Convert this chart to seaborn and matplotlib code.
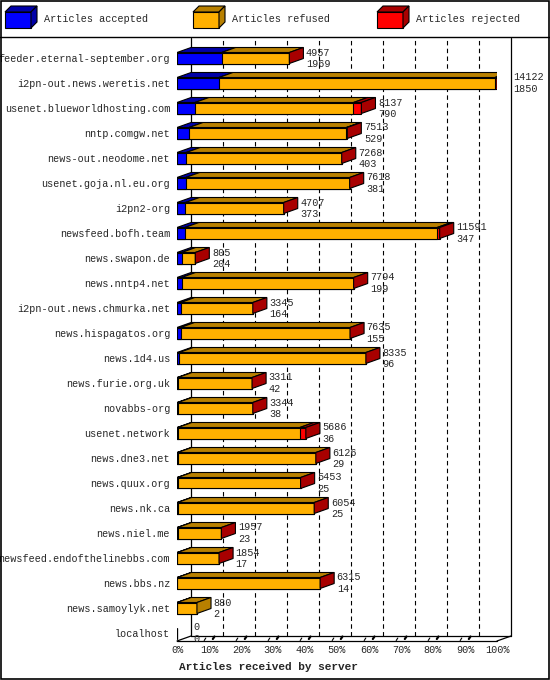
import numpy as np
import pandas as pd
import matplotlib
matplotlib.use("Agg")
import matplotlib.pyplot as plt
from matplotlib.patches import Polygon, Rectangle
import seaborn as sns

servers = ["feeder.eternal-september.org", "i2pn-out.news.weretis.net", "usenet.blueworldhosting.com",
           "nntp.comgw.net", "news-out.neodome.net", "usenet.goja.nl.eu.org", "i2pn2-org",
           "newsfeed.bofh.team", "news.swapon.de", "news.nntp4.net", "i2pn-out.news.chmurka.net",
           "news.hispagatos.org", "news.1d4.us", "news.furie.org.uk", "novabbs-org",
           "usenet.network", "news.dne3.net", "news.quux.org", "news.nk.ca", "news.niel.me",
           "newsfeed.endofthelinebbs.com", "news.bbs.nz", "news.samoylyk.net", "localhost"]
offered = [4957, 14122, 8137, 7513, 7268, 7618, 4707, 11591, 805, 7794, 3345, 7635, 8335,
           3311, 3344, 5686, 6126, 5453, 6054, 1957, 1854, 6315, 880, 0]
accepted = [1969, 1850, 790, 529, 403, 381, 373, 347, 204, 199, 164, 155, 96,
            42, 38, 36, 29, 25, 25, 23, 17, 14, 2, 0]
rejected = [0, 90, 350, 40, 0, 0, 0, 110, 0, 0, 0, 0, 0,
            0, 0, 265, 0, 0, 0, 0, 0, 0, 0, 0]
legend_labels = ["Articles accepted", "Articles refused", "Articles rejected"]
ticks = [0, 10, 20, 30, 40, 50, 60, 70, 80, 90, 100]

C_ACC, C_REF, C_REJ = "#0000ff", "#ffb000", "#ff0000"
D_ACC, D_REF, D_REJ = "#0000a8", "#b88000", "#a80000"

mx = max(offered)
df = pd.DataFrame({"server": servers,
                   "acc": np.array(accepted) / mx * 100,
                   "accref": (np.array(offered) - np.array(rejected)) / mx * 100,
                   "tot": np.array(offered) / mx * 100})

sns.set_style("white")
mono = "Liberation Mono"
fig = plt.figure(figsize=(5.5, 6.8), dpi=100)
W, H = 550, 680
ax = fig.add_axes([177 / W, 39 / H, 320 / W, 603 / H])
ax.set_facecolor("none")

bh = 0.44
for col, c in [("tot", C_REJ), ("accref", C_REF), ("acc", C_ACC)]:
    sns.barplot(data=df, x=col, y="server", orient="h", color=c, width=bh,
                edgecolor="black", linewidth=0.8, saturation=1, ax=ax, zorder=3)

ax.set_xlim(0, 100)
ax.set_ylim(23.32, -0.8)
dx, dy = 4.4, 0.2
ybot = 23.32

# back grid & walls
for t in ticks[1:-1]:
    ax.plot([t + dx, t + dx], [ybot - dy, -0.8], ls=(0, (4, 3)), color="black", lw=0.8, zorder=1, clip_on=False)
ax.plot([dx, dx], [ybot - dy, -0.8], color="black", lw=0.9, zorder=1, clip_on=False)
ax.plot([100 + dx, 100 + dx], [ybot - dy, -0.8], color="black", lw=0.9, zorder=1, clip_on=False)
ax.plot([0, 100], [ybot, ybot], color="black", lw=0.9, clip_on=False)
ax.plot([dx, 100 + dx], [ybot - dy, ybot - dy], color="black", lw=0.9, clip_on=False)
ax.plot([0, dx], [ybot, ybot - dy], color="black", lw=0.9, clip_on=False)
ax.plot([100, 100 + dx], [ybot, ybot - dy], color="black", lw=0.9, clip_on=False)
for t in ticks[1:-1]:
    ax.plot([t - 1.5, t - 1.0], [ybot - 0.02, ybot - 0.12], color="black", lw=0.8, clip_on=False)
    ax.plot([t + 1.2, t + 1.7], [ybot - 0.08, ybot - 0.18], color="black", lw=1.6, clip_on=False)

# 3D faces
for i in range(len(servers)):
    y0 = i - bh / 2
    a, ar, t = df.acc[i], df.accref[i], df.tot[i]
    segs = [(0, a, D_ACC), (a, ar, D_REF), (ar, t, D_REJ)]
    for x1, x2, c in segs:
        if x2 - x1 > 1e-9:
            ax.add_patch(Polygon([(x1, y0), (x2, y0), (x2 + dx, y0 - dy), (x1 + dx, y0 - dy)],
                                 closed=True, fc=c, ec="black", lw=0.8, zorder=4))
    side = D_REF if servers[i] == "news.samoylyk.net" else D_REJ
    if t > 0:
        ax.add_patch(Polygon([(t, y0), (t + dx, y0 - dy), (t + dx, y0 + bh - dy), (t, y0 + bh)],
                             closed=True, fc=side, ec="black", lw=0.8, zorder=4))
    tx = t + dx + 0.8
    ax.text(tx, i - 0.22, str(offered[i]), fontsize=7.3, family=mono, va="center", ha="left", zorder=5)
    ax.text(tx, i + 0.25, str(accepted[i]), fontsize=7.3, family=mono, va="center", ha="left", zorder=5)

for s in ax.spines.values():
    s.set_visible(False)
ax.set_xlabel("")
ax.set_ylabel("")
ax.set_yticks(range(len(servers)))
ax.set_yticklabels(servers, family=mono, fontsize=7.3)
ax.tick_params(axis="y", length=0, pad=5)
ax.set_xticks(ticks)
ax.set_xticklabels([f"{t}%" for t in ticks], family=mono, fontsize=7.3)
ax.tick_params(axis="x", length=0, pad=3)

fig.text(179 / W, 1 - 667 / H, "Articles received by server", family=mono, fontsize=8,
         fontweight="bold", va="center", ha="left")

# legend
for (lx, lab, c, d) in [(5, legend_labels[0], C_ACC, D_ACC), (193, legend_labels[1], C_REF, D_REF),
                        (377, legend_labels[2], C_REJ, D_REJ)]:
    def P(x, y):
        return (x / W, 1 - y / H)
    fig.patches.append(Polygon([P(lx, 12), P(lx + 26, 12), P(lx + 26, 28), P(lx, 28)], closed=True, fc=c,
                               ec="black", lw=0.8, transform=fig.transFigure, figure=fig))
    fig.patches.append(Polygon([P(lx, 12), P(lx + 6, 6), P(lx + 32, 6), P(lx + 26, 12)], closed=True, fc=d,
                               ec="black", lw=0.8, transform=fig.transFigure, figure=fig))
    fig.patches.append(Polygon([P(lx + 26, 12), P(lx + 32, 6), P(lx + 32, 22), P(lx + 26, 28)], closed=True, fc=d,
                               ec="black", lw=0.8, transform=fig.transFigure, figure=fig))
    fig.text((lx + 39) / W, 1 - 19 / H, lab, family=mono, fontsize=7.3, va="center", ha="left")

fig.add_artist(plt.Line2D([0, 1], [1 - 36.5 / H, 1 - 36.5 / H], color="black", lw=1, transform=fig.transFigure))
fig.patches.append(Rectangle((0.001, 0.001), 0.998, 0.998, fill=False, ec="black", lw=1.2,
                             transform=fig.transFigure, figure=fig))

fig.savefig("out.png", dpi=100)
